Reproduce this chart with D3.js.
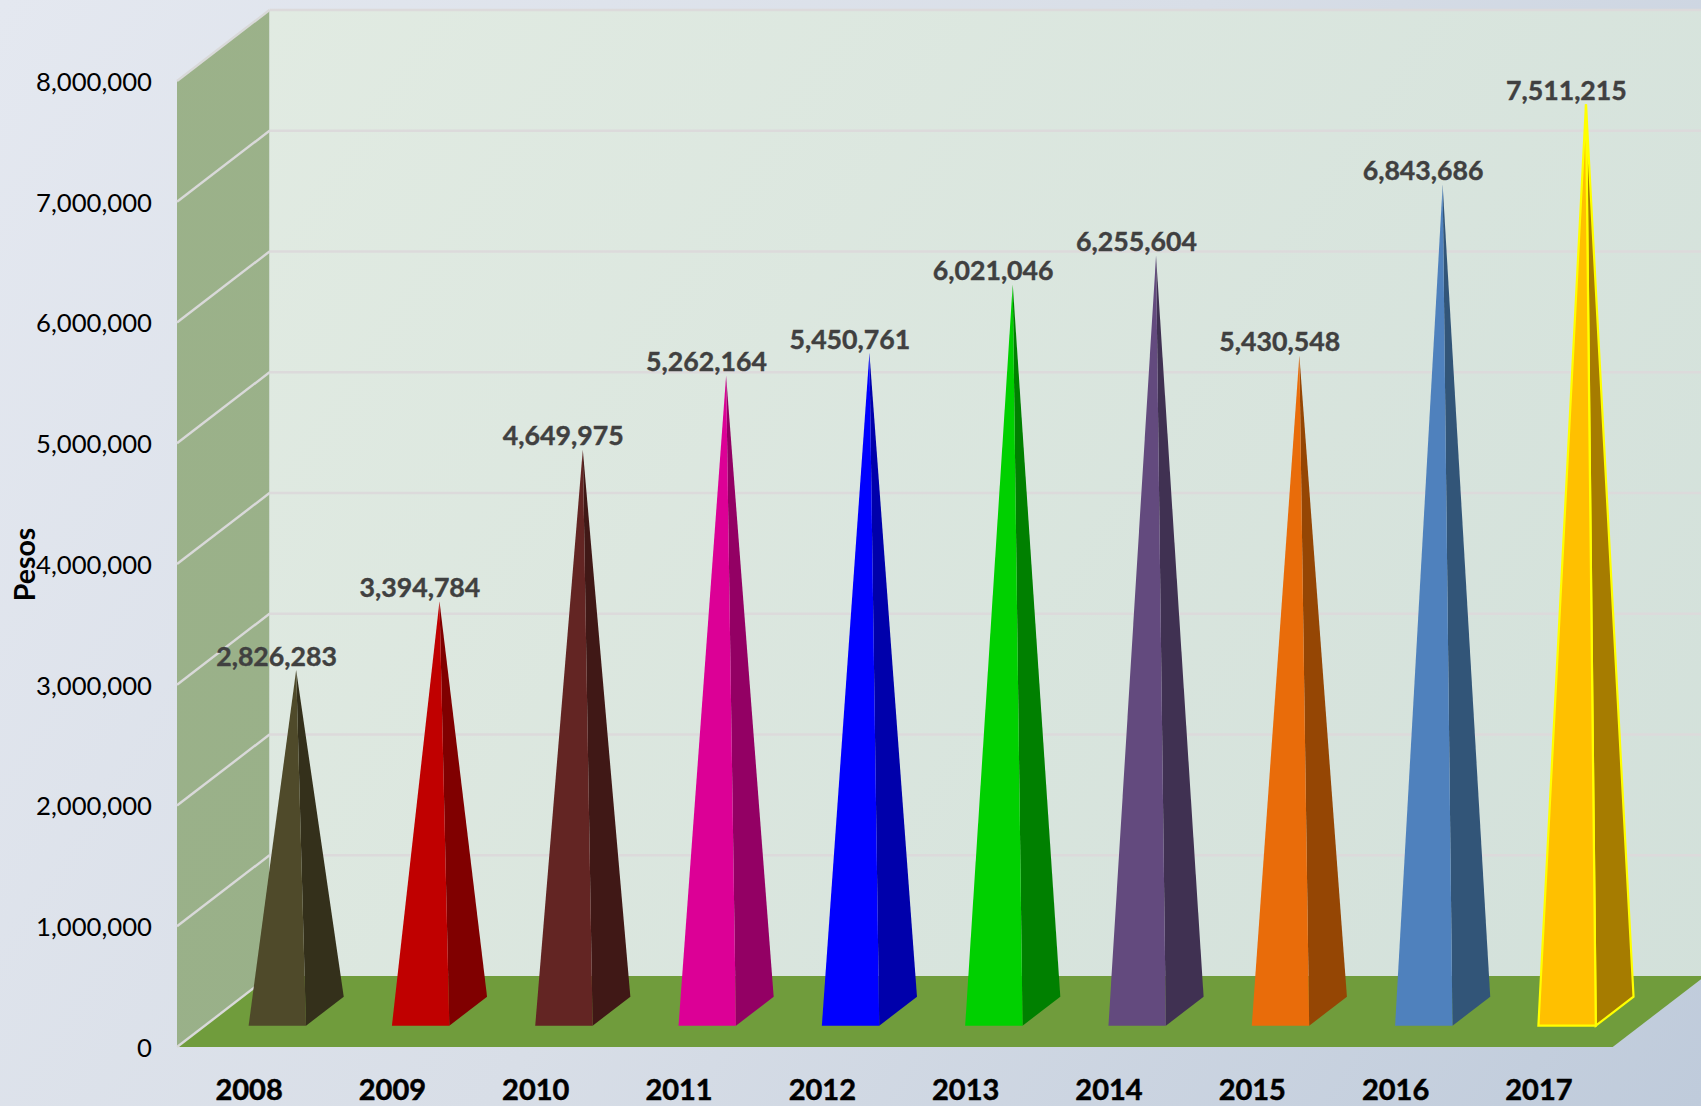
<!DOCTYPE html>
<html>
<head>
<meta charset="utf-8">
<script src="https://cdn.jsdelivr.net/npm/d3@7"></script>
<style>
html,body{margin:0;padding:0;overflow:hidden;background:#d5dce6}
svg{display:block}
text{font-family:Lato,"Open Sans",sans-serif}
</style>
</head>
<body>
<svg id="chart" width="1701" height="1106"></svg>
<script>
// Annual totals in pesos, one pyramid per year
const years = ["2008","2009","2010","2011","2012","2013","2014","2015","2016","2017"];
const values = [2826283,3394784,4649975,5262164,5450761,6021046,6255604,5430548,6843686,7511215];
const frontColors = ["#4f4a2a","#c00000","#632523","#dc0096","#0000ff","#00d000","#634a7e","#e96c0a","#4f81bd","#ffc000"];
const sideColors = ["#34301b","#800000","#401816","#930064","#0000ab","#008000","#403152","#954604","#325578","#a67c00"];
const yTicks = [0,1000000,2000000,3000000,4000000,5000000,6000000,7000000,8000000];

const svg = d3.select("#chart");
const W = 1701, H = 1106;

// Scales: front-plane value height, slot position, and the oblique depth projection
const y = d3.scaleLinear().domain([0,8000000]).range([1047,81]);
const x = d3.scalePoint().domain(years).range([248.6,1538.4]);
const depthX = d3.scaleLinear().domain([0,1]).range([0,92.5]);
const depthY = d3.scaleLinear().domain([0,1]).range([0,-71]);
const floorX = d3.scaleLinear().domain([0,1]).range([177,1612.7]);
const project = (px, value, depth) => [px + depthX(depth), y(value) + depthY(depth)];
const baseWidth = 57.4, baseFront = 0.3, baseBack = 0.708;

const defs = svg.append("defs");
function diag(id, stops){
  const g = defs.append("linearGradient").attr("id",id)
    .attr("gradientUnits","userSpaceOnUse")
    .attr("x1",0).attr("y1",0).attr("x2",W).attr("y2",H);
  stops.forEach(([o,c]) => g.append("stop").attr("offset",o).attr("stop-color",c));
}
diag("page",[[0,"#e4e8f0"],[0.5,"#d8dee7"],[1,"#bfcbdb"]]);
diag("back",[[0,"#e3ece3"],[1,"#d2e0da"]]);
diag("side",[[0,"#9cb28a"],[1,"#95ae87"]]);

svg.append("rect").attr("width",W).attr("height",H).attr("fill","url(#page)");

const poly = pts => pts.map(p => p.join(",")).join(" ");
const fx0 = floorX(0), fx1 = floorX(1);

// Left wall
svg.append("polygon")
  .attr("points",poly([project(fx0,0,0),project(fx0,8000000,0),project(fx0,8000000,1),project(fx0,0,1)]))
  .attr("fill","url(#side)");

// Back wall
svg.append("polygon")
  .attr("points",poly([project(fx0,0,1),project(fx0,8000000,1),project(fx1,8000000,1),project(fx1,0,1)]))
  .attr("fill","url(#back)");

// Floor
svg.append("polygon")
  .attr("points",poly([project(fx0,0,0),project(fx1,0,0),project(fx1,0,1),project(fx0,0,1)]))
  .attr("fill","#709c3c");

// Gridlines run along the left wall and across the back wall
const grid = svg.append("g").attr("fill","none").attr("stroke-width",2.4);
yTicks.forEach(v => {
  grid.append("polyline")
    .attr("points",poly([project(fx0,v,0),project(fx0,v,1)]))
    .attr("stroke","#d9d9d9");
  if (v > 0) grid.append("polyline")
    .attr("points",poly([project(fx0,v,1),project(fx1,v,1)]))
    .attr("stroke","#dcdadb");
});

// Pyramids: a front face and a right side face meeting at the apex
const bars = svg.append("g").selectAll("g")
  .data(years.map((year,i) => ({year, value:values[i], front:frontColors[i], side:sideColors[i]})))
  .join("g");

// Slot positions are given on the plane of the front base edge
const slot = year => x(year) - depthX(baseFront);
const frontL = d => project(slot(d.year),0,baseFront);
const frontR = d => project(slot(d.year)+baseWidth,0,baseFront);
const backR = d => project(slot(d.year)+baseWidth,0,baseBack);
const apex = d => project(slot(d.year)+baseWidth/2,d.value,(baseFront+baseBack)/2);

bars.append("polygon")
  .attr("points",d => poly([frontR(d),backR(d),apex(d)]))
  .attr("fill",d => d.side)
  .attr("stroke",d => d.year === "2017" ? "#ffff00" : "none")
  .attr("stroke-width",2.2);
bars.append("polygon")
  .attr("points",d => poly([frontL(d),frontR(d),apex(d)]))
  .attr("fill",d => d.front)
  .attr("stroke",d => d.year === "2017" ? "#ffff00" : "none")
  .attr("stroke-width",2.2);

// Value labels above each apex
svg.append("g").selectAll("text")
  .data(d3.zip(years,values))
  .join("text")
  .attr("x",d => x(d[0])+28)
  .attr("y",d => apex({year:d[0],value:d[1]})[1]-14)
  .attr("dy","0.36em")
  .attr("text-anchor","middle")
  .attr("font-size",26.7)
  .attr("font-weight",700)
  .attr("fill","#404040")
  .attr("stroke","#404040").attr("stroke-width",0.4)
  .text(d => d3.format(",")(d[1]));

// Value axis
const yAxis = svg.append("g")
  .attr("transform","translate(177,0)")
  .call(d3.axisLeft(y).tickValues(yTicks).tickFormat(d3.format(",")).tickSize(0).tickPadding(25));
yAxis.select(".domain").remove();
yAxis.selectAll("text").attr("font-size",25.7).attr("fill","#000").attr("dy","0.36em");

// Category axis
const xAxis = svg.append("g")
  .attr("transform","translate(0,1090)")
  .call(d3.axisBottom(x).tickSize(0).tickPadding(0));
xAxis.select(".domain").remove();
xAxis.selectAll("text").attr("y",0).attr("dy","0.36em")
  .attr("font-size",29).attr("font-weight",700).attr("fill","#000")
  .attr("stroke","#000").attr("stroke-width",0.5);

// Value axis title
svg.append("text")
  .attr("transform","translate(25,564.5) rotate(-90)")
  .attr("dy","0.36em")
  .attr("text-anchor","middle")
  .attr("font-size",28.5).attr("font-weight",700).attr("fill","#000")
  .text("Pesos");
</script>
</body>
</html>
